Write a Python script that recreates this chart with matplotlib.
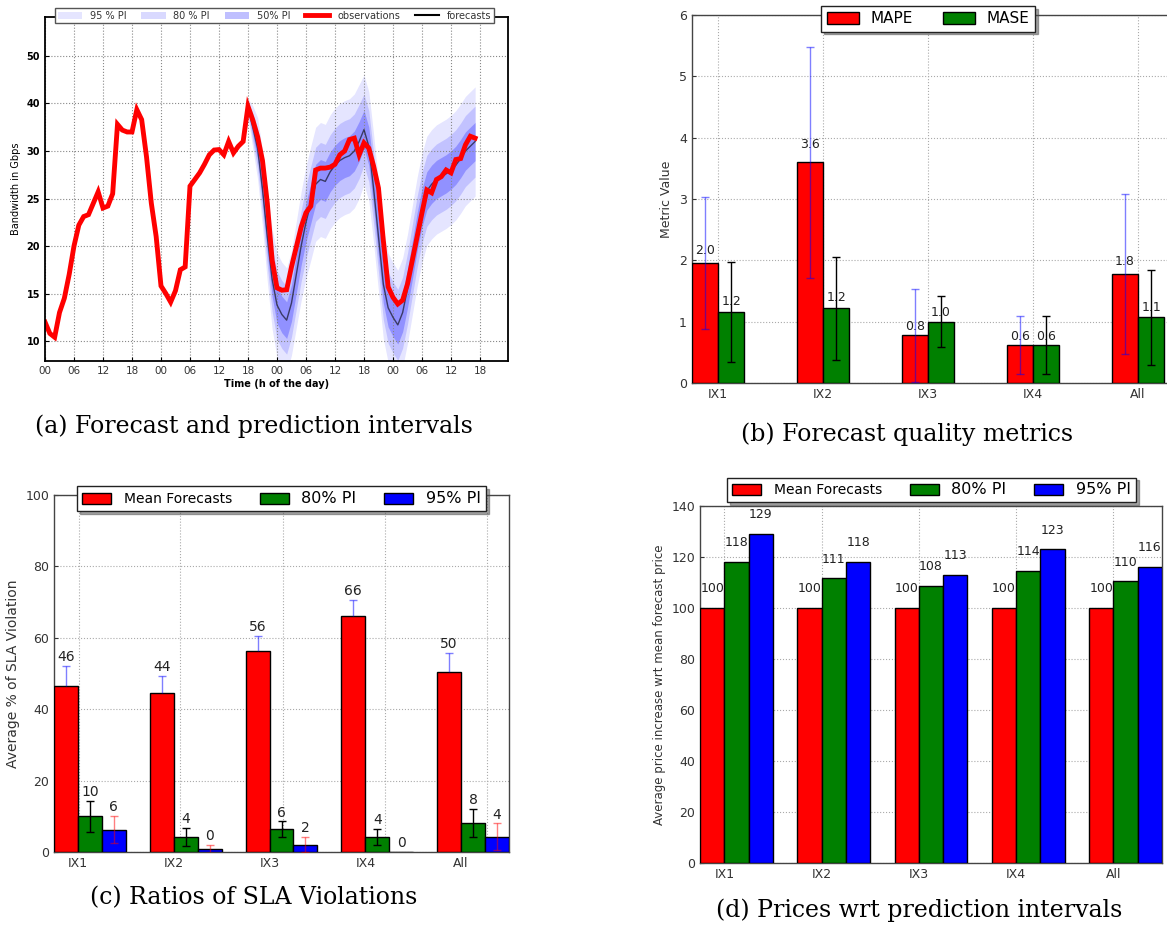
import numpy as np
import matplotlib
matplotlib.use("Agg")
import matplotlib.pyplot as plt
from matplotlib.patches import Patch
from matplotlib.lines import Line2D

# ---- (a) bandwidth, hourly values in Gbps ----
obs_hours = list(range(0, 90))
observations = [12.0, 10.8, 10.4, 13.0, 14.5, 17.0, 20.0, 22.2, 23.1, 23.3,
                24.5, 25.7, 24.0, 24.2, 25.5, 35.6, 34.4, 34.0, 34.0, 38.7,
                36.6, 29.4, 24.5, 21.0, 15.8, 15.0, 14.1, 15.3, 17.5, 17.8,
                26.3, 27.0, 27.7, 28.6, 29.6, 30.2, 30.3, 29.6, 32.0, 29.8,
                31.0, 32.0, 39.4, 36.5, 33.0, 29.0, 24.5, 18.5, 15.6, 15.35,
                15.4, 17.8, 19.9, 22.0, 23.5, 24.2, 28.0, 28.2, 28.2, 28.3,
                28.6, 29.6, 30.0, 32.4, 32.7, 29.6, 31.7, 30.6, 28.4, 26.1,
                20.6, 15.7, 14.6, 13.9, 14.3, 16.0, 18.5, 21.0, 23.5, 25.9,
                25.6, 27.0, 27.3, 28.0, 27.7, 29.1, 29.2, 31.3, 33.1, 32.7]
fc_hours = list(range(42, 90))
forecasts = [39.0, 35.0, 30.5, 26.0, 21.0, 16.5, 13.8, 12.8, 12.2, 14.0,
             17.0, 20.0, 22.5, 24.5, 26.5, 27.0, 26.8, 27.8, 28.5, 29.0,
             29.3, 29.5, 30.0, 32.0, 34.5, 31.0, 26.0, 21.0, 16.0, 13.5,
             12.5, 11.7, 13.0, 15.5, 18.5, 21.5, 24.0, 25.8, 26.5, 27.0,
             27.3, 27.6, 28.0, 28.5, 29.2, 30.0, 31.0, 32.0]
# half width of the 95% interval, in grid steps of the y axis
pi95_half = [0.2, 0.45, 0.65, 0.8, 0.95, 1.05, 1.1, 1.1, 1.1, 1.1,
             1.12, 1.15, 1.18, 1.2, 1.2, 1.2, 1.2, 1.2, 1.2, 1.2,
             1.2, 1.2, 1.2, 1.2, 1.15, 1.15, 1.15, 1.15, 1.15, 1.15,
             1.15, 1.15, 1.15, 1.15, 1.15, 1.15, 1.15, 1.15, 1.15, 1.15,
             1.15, 1.15, 1.15, 1.15, 1.15, 1.15, 1.15, 1.15]
hour_labels = ["00", "06", "12", "18"]
bw_ticks = [10, 15, 20, 25, 30, 40, 50]

# ---- (b) forecast quality ----
ix_names = ["IX1", "IX2", "IX3", "IX4", "All"]
mape = [1.96, 3.6, 0.78, 0.62, 1.78]
mape_err = [1.08, 1.88, 0.76, 0.48, 1.3]
mase = [1.16, 1.22, 1.0, 0.62, 1.07]
mase_err = [0.82, 0.84, 0.42, 0.47, 0.78]

# ---- (c) SLA violations ----
sla_mean = [46.5, 44.4, 56.3, 66.1, 50.3]
sla_mean_err = [5.6, 5.0, 4.3, 4.5, 5.4]
sla_pi80 = [10.0, 4.2, 6.4, 4.3, 8.2]
sla_pi80_err = [4.4, 2.6, 2.2, 2.2, 3.9]
sla_pi95 = [6.3, 0.8, 2.1, 0.0, 4.3]
sla_pi95_err = [3.9, 1.2, 2.1, 0.0, 3.7]
sla_grid = [0.26, 1.32, 2.39, 3.46, 4.52]

# ---- (d) prices ----
price_mean = [100, 100, 100, 100, 100]
price_pi80 = [118.2, 111.6, 108.8, 114.5, 110.4]
price_pi95 = [129.0, 118.0, 113.0, 123.0, 116.0]

W = 0.25
SERIF = "DejaVu Serif"
TXT = "#222222"
GRID = "#aaaaaa"


def fwd(v):
    v = np.asarray(v, float)
    return np.where(v <= 30, (v - 10) / 5.0, 4 + (v - 30) / 10.0)


def inv(p):
    p = np.asarray(p, float)
    return np.where(p <= 4, 10 + 5 * p, 30 + 10 * (p - 4))


def style_bar_axes(ax):
    for s in ax.spines.values():
        s.set_color("#444444")
        s.set_linewidth(1.0)
    ax.tick_params(direction="in", length=3, labelsize=9, colors="#333333")
    ax.grid(True, linestyle=":", color=GRID, linewidth=0.8)
    ax.set_axisbelow(True)


def errbars(ax, x, y, lo, hi, line_c, cap_c, alpha=1.0, hide_low_cap=False):
    eb = ax.errorbar(x, y, yerr=[lo, hi], fmt="none", ecolor=line_c,
                     elinewidth=1.0, capsize=3, capthick=1.0, alpha=alpha, zorder=4)
    for cap in eb[1]:
        cap.set_color(cap_c)
    if hide_low_cap:
        eb[1][0].set_visible(False)


fig = plt.figure(figsize=(11.67, 9.27), dpi=100)

# ================= (a) =================
ax = fig.add_axes([45 / 1167, 1 - 361 / 927, 463 / 1167, 344 / 927])
ax.set_yscale("function", functions=(fwd, inv))
fc_p = fwd(forecasts)
hw = np.asarray(pi95_half)
for frac, a in [(1.0, 0.10), (0.65, 0.15), (0.35, 0.25)]:
    ax.fill_between(fc_hours, inv(fc_p - frac * hw), inv(fc_p + frac * hw),
                    color="b", alpha=a, linewidth=0)
ax.plot(fc_hours, forecasts, color="k", lw=1.0, alpha=0.6)
ax.plot(obs_hours, observations, color="r", lw=3.5, solid_joinstyle="miter")
ax.set_xlim(0, 95.8)
ax.set_ylim(7.9, 58.2)
ax.set_yticks(bw_ticks)
ax.set_yticklabels([str(t) for t in bw_ticks], fontweight="bold", fontsize=7)
xt = list(range(0, 91, 6))
ax.set_xticks(xt)
ax.set_xticklabels([hour_labels[i % 4] for i in range(len(xt))], fontsize=7.5, color="#333333")
ax.yaxis.set_minor_locator(matplotlib.ticker.NullLocator())
ax.tick_params(direction="in", length=3)
ax.grid(True, linestyle=":", color="#888888", linewidth=0.8)
for s in ax.spines.values():
    s.set_linewidth(1.3)
ax.set_ylabel("Bandwidth in Gbps", fontsize=7)
ax.set_xlabel("Time (h of the day)", fontsize=7, fontweight="bold", labelpad=2)
handles = [Patch(facecolor="b", alpha=0.10, edgecolor="none"),
           Patch(facecolor="b", alpha=0.15, edgecolor="none"),
           Patch(facecolor="b", alpha=0.25, edgecolor="none"),
           Line2D([], [], color="r", lw=3.5),
           Line2D([], [], color="k", lw=1.5)]
ax.legend(handles, ["95 % PI", "80 % PI", "50% PI", "observations", "forecasts"],
          loc="lower left", bbox_to_anchor=(0.012, 0.968, 0.968, 0.055), mode="expand",
          ncol=5, fontsize=7, frameon=True, fancybox=False, framealpha=1,
          edgecolor="#555555", borderpad=0.25, handlelength=2.5, labelcolor="#333333")

# ================= (b) =================
ax = fig.add_axes([691.7 / 1167, 1 - 383 / 927, 498.75 / 1167, 368 / 927])
x = np.arange(len(ix_names))
ax.bar(x, mape, W, align="edge", color="r", edgecolor="k", linewidth=1, label="MAPE", zorder=3)
ax.bar(x + W, mase, W, align="edge", color="g", edgecolor="k", linewidth=1, label="MASE", zorder=3)
errbars(ax, x + W / 2, mape, mape_err, mape_err, "b", "b", alpha=0.5)
errbars(ax, x + 1.5 * W, mase, mase_err, mase_err, "k", "#44aa44")
for i in range(len(ix_names)):
    ax.text(x[i] + W / 2, 1.05 * mape[i], "%.1f" % mape[i], ha="center", va="bottom", fontsize=9, color=TXT)
    ax.text(x[i] + 1.5 * W, 1.05 * mase[i], "%.1f" % mase[i], ha="center", va="bottom", fontsize=9, color=TXT)
ax.set_xlim(0, 4.75)
ax.set_ylim(0, 6)
ax.set_xticks(x + W)
ax.set_xticklabels(ix_names)
ax.set_ylabel("Metric Value", fontsize=9, color="#333333")
style_bar_axes(ax)
ax.legend(ncol=2, loc="center", bbox_to_anchor=(0.474, 0.99), fontsize=11, shadow=True,
          fancybox=False, framealpha=1, edgecolor="#222222", handlelength=2.1,
          handleheight=0.8, handletextpad=0.75, columnspacing=2.0, borderpad=0.35)

# ================= (c) =================
ax = fig.add_axes([54 / 1167, 1 - 852 / 927, 455 / 1167, 357 / 927])
ax.bar(x, sla_mean, W, align="edge", color="r", edgecolor="k", linewidth=1, label="Mean Forecasts", zorder=3)
ax.bar(x + W, sla_pi80, W, align="edge", color="g", edgecolor="k", linewidth=1, label="80% PI", zorder=3)
ax.bar(x + 2 * W, sla_pi95, W, align="edge", color="b", edgecolor="k", linewidth=1, label="95% PI", zorder=3)
errbars(ax, x + W / 2, sla_mean, [0] * 5, sla_mean_err, "b", "b", alpha=0.5, hide_low_cap=True)
errbars(ax, x + 1.5 * W, sla_pi80, sla_pi80_err, sla_pi80_err, "k", "#44aa44")
k95 = [i for i in range(5) if sla_pi95_err[i] > 0]
errbars(ax, x[k95] + 2.5 * W, [sla_pi95[i] for i in k95], [sla_pi95_err[i] for i in k95],
        [sla_pi95_err[i] for i in k95], "r", "r", alpha=0.5)
for i in range(len(ix_names)):
    ax.text(x[i] + W / 2, sla_mean[i] + sla_mean_err[i] + 0.5, "%d" % int(sla_mean[i]),
            ha="center", va="bottom", fontsize=10, color=TXT)
    ax.text(x[i] + 1.5 * W, sla_pi80[i] + sla_pi80_err[i] + 0.5, "%d" % int(sla_pi80[i]),
            ha="center", va="bottom", fontsize=10, color=TXT)
    ax.text(x[i] + 2.5 * W, sla_pi95[i] + sla_pi95_err[i] + 0.5, "%d" % int(sla_pi95[i]),
            ha="center", va="bottom", fontsize=10, color=TXT)
ax.set_xlim(0, 4.75)
ax.set_ylim(0, 100)
ax.set_xticks(x + W)
ax.set_xticklabels(ix_names)
ax.set_xticks(sla_grid, minor=True)
ax.set_ylabel("Average % of SLA Violation", fontsize=10, color="#333333")
style_bar_axes(ax)
ax.grid(False, axis="x", which="major")
ax.grid(True, axis="x", which="minor", linestyle=":", color=GRID, linewidth=0.8)
ax.tick_params(axis="x", which="minor", length=0)
leg = ax.legend(ncol=3, loc="center", bbox_to_anchor=(0.5, 0.99), fontsize=10, shadow=True,
                fancybox=False, framealpha=1, edgecolor="#222222", handlelength=2.1,
                handleheight=0.8, handletextpad=0.9, columnspacing=2.0, borderpad=0.35)
leg.get_texts()[1].set_fontsize(11.5)
leg.get_texts()[2].set_fontsize(11.5)

# ================= (d) =================
ax = fig.add_axes([700 / 1167, 1 - 863 / 927, 462 / 1167, 357 / 927])
ax.bar(x, price_mean, W, align="edge", color="r", edgecolor="k", linewidth=1, label="Mean Forecasts", zorder=3)
ax.bar(x + W, price_pi80, W, align="edge", color="g", edgecolor="k", linewidth=1, label="80% PI", zorder=3)
ax.bar(x + 2 * W, price_pi95, W, align="edge", color="b", edgecolor="k", linewidth=1, label="95% PI", zorder=3)
for i in range(len(ix_names)):
    for off, vals in [(0.5, price_mean), (1.5, price_pi80), (2.5, price_pi95)]:
        ax.text(x[i] + off * W, vals[i] + 5, "%d" % int(vals[i]), ha="center", va="bottom",
                fontsize=9, color=TXT)
ax.set_xlim(0, 4.75)
ax.set_ylim(0, 140)
ax.set_xticks(x + W)
ax.set_xticklabels(ix_names)
ax.set_ylabel("Average price increase wrt mean forecast price", fontsize=8.5, color="#333333")
style_bar_axes(ax)
leg = ax.legend(ncol=3, loc="center", bbox_to_anchor=(0.501, 1.045), fontsize=10, shadow=True,
                fancybox=False, framealpha=1, edgecolor="#222222", handlelength=2.1,
                handleheight=0.8, handletextpad=0.9, columnspacing=2.0, borderpad=0.35)
leg.get_texts()[1].set_fontsize(11.5)
leg.get_texts()[2].set_fontsize(11.5)

# ---- captions ----
fig.text(254 / 1167, 1 - 426 / 927, "(a) Forecast and prediction intervals", ha="center", va="center",
         family=SERIF, fontsize=17)
fig.text(907 / 1167, 1 - 434 / 927, "(b) Forecast quality metrics", ha="center", va="center",
         family=SERIF, fontsize=17)
fig.text(254 / 1167, 1 - 898 / 927, "(c) Ratios of SLA Violations", ha="center", va="center",
         family=SERIF, fontsize=17)
fig.text(919 / 1167, 1 - 910 / 927, "(d) Prices wrt prediction intervals", ha="center", va="center",
         family=SERIF, fontsize=17)

fig.savefig("out.png", dpi=100)
